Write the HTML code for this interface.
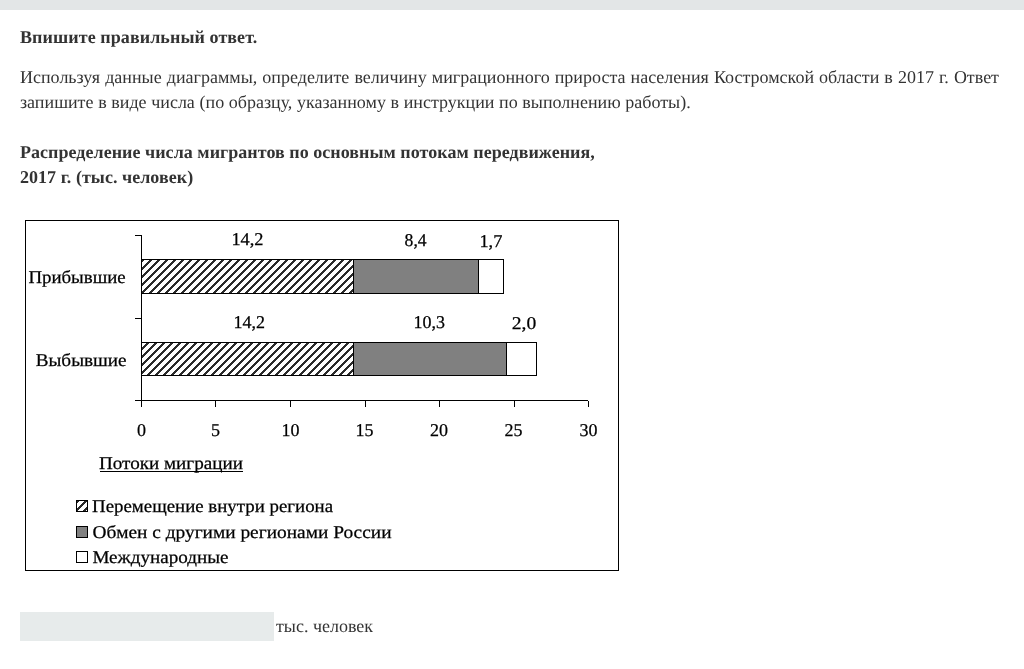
<!DOCTYPE html>
<html lang="ru">
<head>
<meta charset="utf-8">
<title>Задание</title>
<style>
html,body{margin:0;padding:0;background:#fff;}
body{width:1024px;height:669px;overflow:hidden;position:relative;font-family:"Liberation Serif",serif;color:#333;font-size:18px;text-rendering:geometricPrecision;}
.bar{position:absolute;left:0;top:0;width:1024px;height:10px;background:#e3e6e7;}
.t{position:absolute;left:20px;white-space:nowrap;line-height:25px;will-change:transform;}
.b{font-weight:bold;}
.just{width:979px;word-spacing:0.15px;white-space:normal;text-align:justify;}
.inp{position:absolute;left:20px;top:612px;width:254px;height:29px;background:#e7ebeb;}
svg{position:absolute;left:0;top:0;}
svg text{font-family:"Liberation Serif",serif;fill:#000;stroke:#000;stroke-width:0.25px;}
</style>
</head>
<body>
<div class="bar"></div>
<div class="t b" style="top:25px;letter-spacing:0.08px">Впишите правильный ответ.</div>
<div class="t just" style="top:65px">Используя данные диаграммы, определите величину миграционного прироста населения Костромской области в 2017 г. Ответ запишите в виде числа (по образцу, указанному в инструкции по выполнению работы).</div>
<div class="t b" style="top:140px;letter-spacing:0.035px">Распределение числа мигрантов по основным потокам передвижения,<br>2017 г. (тыс. человек)</div>

<svg width="1024" height="669" viewBox="0 0 1024 669" shape-rendering="crispEdges">
<defs>
<pattern id="h" patternUnits="userSpaceOnUse" x="0" y="0" width="8" height="8">
<path fill="#2a2a2a" d="M1 0h3v1h-3zM0 1h3v1h-3zM0 2h2v1h-2zM7 2h1v1h-1zM0 3h1v1h-1zM6 3h2v1h-2zM5 4h3v1h-3zM4 5h3v1h-3zM3 6h3v1h-3zM2 7h3v1h-3z"/>
</pattern>
</defs>
<!-- outer frame -->
<rect x="25.5" y="220.5" width="593" height="350" fill="none" stroke="#000" stroke-width="1"/>
<!-- bars -->
<rect x="141" y="259" width="212" height="35" fill="#fff"/>
<rect x="141" y="259" width="212" height="35" fill="url(#h)"/>
<rect x="353" y="259" width="125" height="35" fill="#808080"/>
<rect x="478" y="259" width="25" height="35" fill="#fff"/>
<path d="M141.5 259.5H503.5V293.5H141.5ZM353.5 259.5V293.5M478.5 259.5V293.5" fill="none" stroke="#000"/>
<rect x="141" y="342" width="212" height="34" fill="url(#h)"/>
<rect x="353" y="342" width="153" height="34" fill="#808080"/>
<path d="M141.5 342.5H536.5V375.5H141.5ZM353.5 342.5V375.5M506.5 342.5V375.5" fill="none" stroke="#000"/>
<!-- axes -->
<path d="M141.5 235V407M135 235.5H141M135 318.5H141M135 400.5H588M215.5 400V407M290.5 400V407M365.5 400V407M439.5 400V407M514.5 400V407M588.5 401V407" fill="none" stroke="#000"/>
<!-- value labels -->
<g font-size="18">
<text x="231.4" y="245" textLength="32.1" lengthAdjust="spacingAndGlyphs">14,2</text>
<text x="404.6" y="246" textLength="22" lengthAdjust="spacingAndGlyphs">8,4</text>
<text x="479.4" y="247" textLength="22.9" lengthAdjust="spacingAndGlyphs">1,7</text>
<text x="233.4" y="328" textLength="31.5" lengthAdjust="spacingAndGlyphs">14,2</text>
<text x="413.4" y="328" textLength="31.5" lengthAdjust="spacingAndGlyphs">10,3</text>
<text x="511.8" y="329" textLength="24.5" lengthAdjust="spacingAndGlyphs">2,0</text>
<text x="28.4" y="283" textLength="97.28" lengthAdjust="spacingAndGlyphs">Прибывшие</text>
<text x="35.7" y="366" textLength="90.94" lengthAdjust="spacingAndGlyphs">Выбывшие</text>
<g text-anchor="middle">
<text x="141.5" y="436">0</text>
<text x="215.5" y="436">5</text>
<text x="290.5" y="436">10</text>
<text x="364.5" y="436">15</text>
<text x="439" y="436">20</text>
<text x="513.5" y="436">25</text>
<text x="588.5" y="436">30</text>
</g>
<text x="99" y="469" textLength="143.86" lengthAdjust="spacingAndGlyphs">Потоки миграции</text>
<text x="92" y="512" textLength="241.05" lengthAdjust="spacingAndGlyphs">Перемещение внутри региона</text>
<text x="92.5" y="538" textLength="299.06" lengthAdjust="spacingAndGlyphs">Обмен с другими регионами России</text>
<text x="92.4" y="563" textLength="136.14" lengthAdjust="spacingAndGlyphs">Международные</text>
</g>
<rect x="100" y="471" width="143" height="1" fill="#000"/>
<!-- legend -->
<rect x="77" y="501" width="10" height="10" fill="url(#h)"/>
<rect x="76.5" y="500.5" width="11" height="11" fill="none" stroke="#000"/>
<rect x="76.5" y="526.5" width="11" height="11" fill="#808080" stroke="#000"/>
<rect x="76.5" y="551.5" width="11" height="11" fill="#fff" stroke="#000"/>
</svg>

<div class="inp"></div>
<div class="t" style="left:276px;top:614px">тыс. человек</div>
</body>
</html>
